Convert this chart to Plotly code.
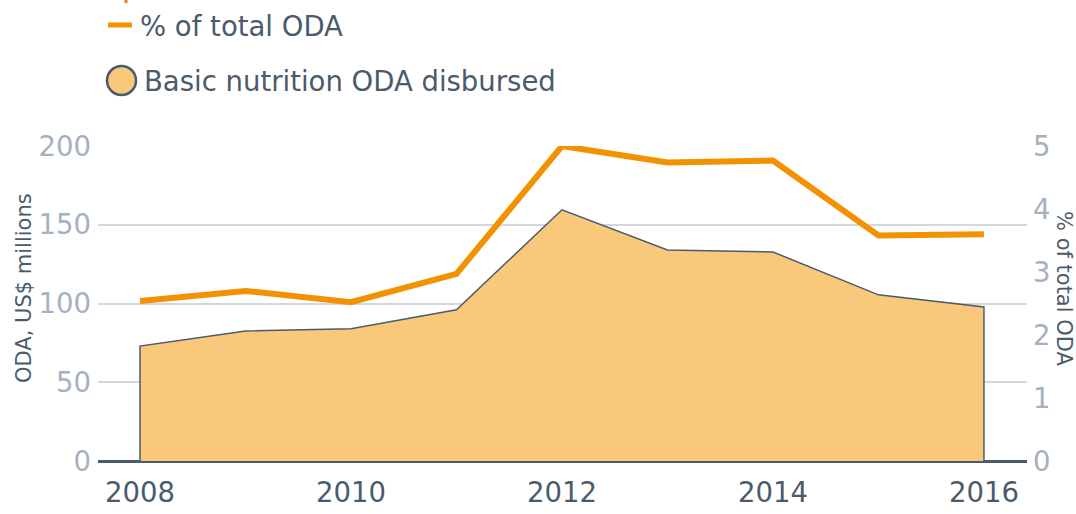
import plotly.graph_objects as go

years = [2008, 2009, 2010, 2011, 2012, 2013, 2014, 2015, 2016]
oda_disbursed = [73, 82.5, 84, 96, 159.5, 134, 132.7, 105.5, 97.8]
pct_total_oda = [2.54, 2.70, 2.52, 2.97, 5.0, 4.74, 4.77, 3.58, 3.60]

left_ticks = [0, 50, 100, 150, 200]
right_ticks = [0, 1, 2, 3, 4, 5]
x_ticks = [2008, 2010, 2012, 2014, 2016]

FONT = "DejaVu Sans"
DARK = "#4a5b6b"
LIGHT = "#a6b1c0"
ORANGE = "#f39200"
FILL = "#fac87b"
GRID = "#d3d7df"

W, H = 1076, 514
L, R, T, B = 98, 49, 146, 53
pw, ph = W - L - R, H - T - B

def px(x):
    return (x - L) / pw

def py(y):
    return (H - B - y) / ph

fig = go.Figure()

# area (closed polygon so the vertical edges are outlined)
fig.add_trace(go.Scatter(
    x=[years[0]] + years + [years[-1]],
    y=[0] + oda_disbursed + [0],
    mode="lines", fill="toself", fillcolor=FILL,
    line=dict(color=DARK, width=1.5),
    name="Basic nutrition ODA disbursed", showlegend=False,
    hoverinfo="skip",
))

fig.add_trace(go.Scatter(
    x=years, y=pct_total_oda, yaxis="y2",
    mode="lines", line=dict(color=ORANGE, width=6),
    name="% of total ODA", showlegend=False, cliponaxis=False,
))

fig.update_layout(
    width=W, height=H, autosize=False,
    margin=dict(l=L, r=R, t=T, b=B, autoexpand=False),
    paper_bgcolor="white", plot_bgcolor="white",
    font=dict(family=FONT, color=DARK),
    xaxis=dict(
        range=[2007.602, 2016.408], tickvals=x_ticks,
        ticktext=[str(v) for v in x_ticks],
        tickfont=dict(size=27.5, color=DARK),
        showgrid=False, zeroline=False, showline=False,
        ticks="", ticklabelstandoff=12, automargin=False,
    ),
    yaxis=dict(
        range=[0, 200], tickvals=left_ticks,
        tickfont=dict(size=27.5, color=LIGHT),
        showgrid=True, gridcolor=GRID, gridwidth=1.5,
        zeroline=True, zerolinecolor=DARK, zerolinewidth=3,
        ticks="", ticklabelstandoff=6, automargin=False,
    ),
    yaxis2=dict(
        range=[0, 5], tickvals=right_ticks, overlaying="y", side="right",
        tickfont=dict(size=27.5, color=LIGHT),
        showgrid=False, zeroline=False, showline=False,
        ticks="", ticklabelstandoff=5, automargin=False,
    ),
    showlegend=False,
)

# axis titles
fig.add_annotation(xref="paper", yref="paper", x=px(24), y=py(288),
                   text="ODA, US$ millions", showarrow=False, textangle=-90,
                   xanchor="center", yanchor="middle",
                   font=dict(size=21, color=DARK, family=FONT))
fig.add_annotation(xref="paper", yref="paper", x=px(1064), y=py(289),
                   text="% of total ODA", showarrow=False, textangle=90,
                   xanchor="center", yanchor="middle",
                   font=dict(size=21, color=DARK, family=FONT))

# manual legend
fig.add_shape(type="line", xref="paper", yref="paper",
              x0=px(108), x1=px(132), y0=py(25), y1=py(25),
              line=dict(color=ORANGE, width=5))
fig.add_shape(type="circle", xref="paper", yref="paper",
              x0=px(107), x1=px(136), y0=py(66), y1=py(95),
              fillcolor=FILL, line=dict(color=DARK, width=2.5))
fig.add_annotation(xref="paper", yref="paper", x=px(138), y=py(26),
                   text="% of total ODA", showarrow=False,
                   xanchor="left", yanchor="middle",
                   font=dict(size=27.5, color=DARK, family=FONT))
fig.add_annotation(xref="paper", yref="paper", x=px(142), y=py(81),
                   text="Basic nutrition ODA disbursed", showarrow=False,
                   xanchor="left", yanchor="middle",
                   font=dict(size=27.5, color=DARK, family=FONT))
# cropped mark at the very top
fig.add_shape(type="rect", xref="paper", yref="paper",
              x0=px(124.5), x1=px(127.5), y0=py(0), y1=py(3),
              fillcolor="#ee7a1a", line=dict(width=0))

fig.write_html("out.html", config={"displayModeBar": False, "responsive": False},
               post_script="document.body.style.margin='0';document.body.style.overflow='hidden';")
